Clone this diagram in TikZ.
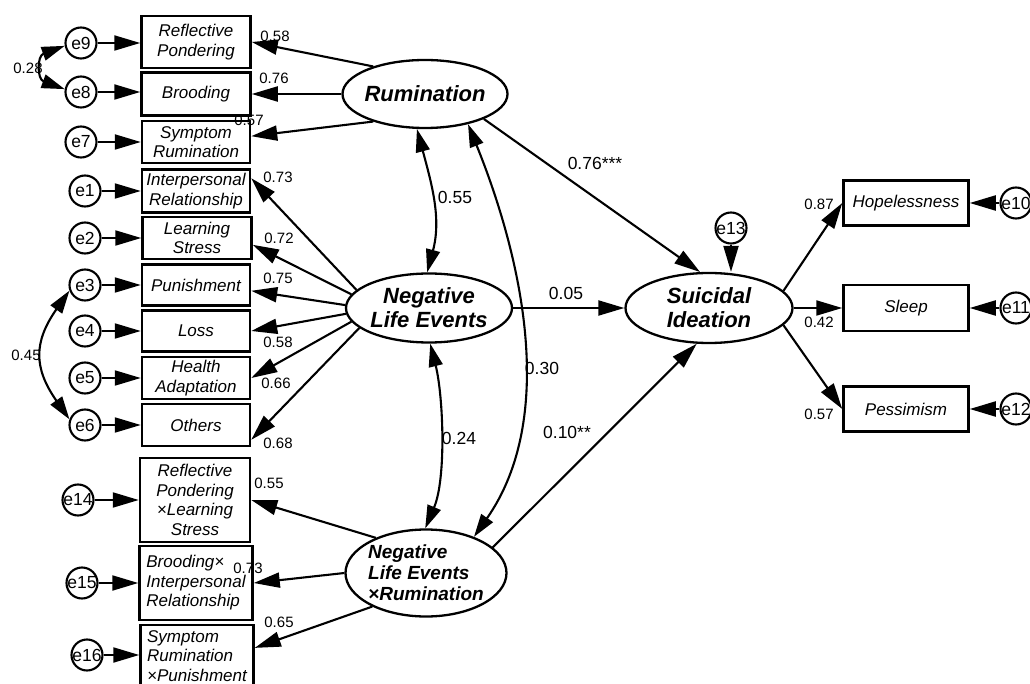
\documentclass[tikz,border=0pt]{standalone}
\usepackage{fontspec}
\setmainfont{Liberation Sans}
\usetikzlibrary{arrows.meta,shapes.geometric,calc}
\tikzset{
  ind/.style={draw, line width=2.5pt, inner sep=0pt, font=\fontsize{17}{19.5}\selectfont\itshape, align=center},
  lat/.style={draw, ellipse, line width=2.3pt, inner xsep=-25pt, inner ysep=-5pt, font=\fontsize{22}{24}\selectfont\bfseries\itshape, align=center},
  err/.style={draw, circle, line width=2.1pt, minimum size=31pt, inner sep=-4pt, font=\fontsize{17.5}{17}\selectfont},
  arr/.style={line width=2.1pt, -{Triangle[length=26pt,width=15pt]}},
  cov/.style={line width=2.1pt, {Triangle[length=23pt,width=14pt]}-{Triangle[length=23pt,width=14pt]}},
  ld/.style={font=\fontsize{15}{15}\selectfont, inner sep=0pt},
  pl/.style={font=\fontsize{17.5}{17.5}\selectfont, inner sep=0pt},
}
\begin{document}
\begin{tikzpicture}[x=1pt,y=1pt]
\useasboundingbox (0,0) rectangle (1030,-684);

% left indicators
\node[ind, minimum width=109pt, minimum height=52pt] (rp) at (196,-42) {Reflective\\Pondering};
\node[ind, minimum width=109pt, minimum height=43pt] (br) at (196,-94) {Brooding};
\node[ind, minimum width=108pt, minimum height=42pt] (sr) at (196,-142) {Symptom\\Rumination};
\node[ind, minimum width=108pt, minimum height=43pt] (ir) at (196,-191) {Interpersonal\\Relationship};
\node[ind, minimum width=109pt, minimum height=42pt] (ls) at (197,-238) {Learning\\Stress};
\node[ind, minimum width=108pt, minimum height=41pt] (pu) at (196,-285) {Punishment};
\node[ind, minimum width=108pt, minimum height=41pt] (lo) at (196,-331) {Loss};
\node[ind, minimum width=108pt, minimum height=42pt] (ha) at (196,-378) {Health\\Adaptation};
\node[ind, minimum width=108pt, minimum height=42pt] (ot) at (196,-425) {Others};
\node[ind, minimum width=110pt, minimum height=84pt] (rpls) at (195,-500) {Reflective\\Pondering\\×Learning\\Stress};
\node[ind, minimum width=113pt, minimum height=74pt, align=left] (bir) at (196,-583) {Brooding×\\Interpersonal\\Relationship};
\node[ind, minimum width=113pt, minimum height=62pt, align=left] (srp) at (197,-656) {Symptom\\Rumination\\×Punishment};

% right indicators
\node[ind, minimum width=125pt, minimum height=45pt] (hope) at (906,-203) {Hopelessness};
\node[ind, minimum width=125pt, minimum height=46pt] (sleep) at (906,-308) {Sleep};
\node[ind, minimum width=125pt, minimum height=45pt] (pess) at (906,-409) {Pessimism};

% latent variables
\node[lat, minimum width=165pt, minimum height=68pt] (rum) at (425,-94) {Rumination};
\node[lat, minimum width=166pt, minimum height=69pt] (nle) at (429,-308) {Negative\\Life Events};
\node[lat, minimum width=161pt, minimum height=87pt, align=left, font=\fontsize{19}{21}\selectfont\bfseries\itshape] (nlexr) at (426,-573) {Negative\\Life Events\\×Rumination};
\node[lat, minimum width=167pt, minimum height=70pt] (si) at (709,-308) {Suicidal\\Ideation};

% error terms
\node[err] (e9) at (81,-43) {e9};
\node[err] (e8) at (81,-92) {e8};
\node[err] (e7) at (81,-142) {e7};
\node[err] (e1) at (85,-191) {e1};
\node[err] (e2) at (85,-238) {e2};
\node[err] (e3) at (85,-285) {e3};
\node[err] (e4) at (85,-331) {e4};
\node[err] (e5) at (85,-378) {e5};
\node[err] (e6) at (85,-425) {e6};
\node[err] (e14) at (78,-500) {e14};
\node[err] (e15) at (82,-583) {e15};
\node[err] (e16) at (87,-655) {e16};
\node[err] (e10) at (1016,-203) {e10};
\node[err] (e11) at (1016,-308) {e11};
\node[err] (e12) at (1016,-409) {e12};
\node[err] (e13) at (731,-228) {e13};

% error arrows
\foreach \e/\b in {e9/rp,e8/br,e7/sr,e1/ir,e2/ls,e3/pu,e4/lo,e5/ha,e6/ot,e14/rpls,e15/bir,e16/srp}
  \draw[arr] (\e) -- (\e -| \b.west);
\foreach \e/\b in {e10/hope,e11/sleep,e12/pess}
  \draw[arr] (\e) -- (\e -| \b.east);
\draw[arr] (e13) -- (e13 |- si.north);

% loadings
\draw[arr] (rum.152) -- (rp.east);
\draw[arr] (rum.west) -- (br.east);
\draw[arr] (rum.208) -- (sr.6);
\draw[arr] (nle.166) -- (ir.13);
\draw[arr] (nle.170) -- (ls.-7);
\draw[arr] (nle.178) -- (pu.-6);
\draw[arr] (nle.184) -- (lo.east);
\draw[arr] (nle.190) -- (ha.east);
\draw[arr] (nle.196) -- (ot.-15);
\draw[arr] (nlexr.145) -- (rpls.east);
\draw[arr] (nlexr.west) -- (bir.east);
\draw[arr] (nlexr.212) -- (srp.8);
\draw[arr] (si.13) -- (hope.west);
\draw[arr] (si.east) -- (sleep.west);
\draw[arr] (si.-13) -- (pess.west);

% structural paths
\draw[arr] (rum.-23) -- (si.104);
\draw[arr] (nle.east) -- (si.west);
\draw[arr] (nlexr.21) -- (si.-109);

% covariances
\draw[cov] (rum.-103) to[out=-75,in=75] (nle.93);
\draw[cov] (rum.-35) to[out=-68,in=55,looseness=0.9] (nlexr.37);
\draw[cov] (nle.-88) to[out=-76,in=67,looseness=0.75] (nlexr.91);
\draw[cov] (e9.190) to[out=200,in=160,looseness=1.75] (e8.170);
\draw[cov] (e3.200) to[out=235,in=125,looseness=1.25] (e6.160);

% loading labels
\node[ld] (l1) at (275,-36) {0.58};
\node[ld] (l2) at (274,-78) {0.76};
\node[ld] (l3) at (249,-120) {0.57};
\node[ld] (l4) at (278,-177) {0.73};
\node[ld] (l5) at (279,-238) {0.72};
\node[ld] (l6) at (278,-278) {0.75};
\node[ld] (l7) at (278,-342) {0.58};
\node[ld] (l8) at (276,-383) {0.66};
\node[ld] (l9) at (278,-443) {0.68};
\node[ld] (l10) at (269,-483) {0.55};
\node[ld] (l11) at (248,-568) {0.73};
\node[ld] (l12) at (279,-622) {0.65};
\node[ld] (l13) at (819,-204) {0.87};
\node[ld] (l14) at (819,-322) {0.42};
\node[ld] (l15) at (819,-414) {0.57};
\node[ld] (l16) at (28,-68) {0.28};
\node[ld] (l17) at (26,-355) {0.45};

% path labels
\node[pl] (p1) at (455,-197) {0.55};
\node[pl] (p2) at (542,-368) {0.30};
\node[pl] (p3) at (459,-438) {0.24};
\node[pl] (p4) at (595,-163) {0.76***};
\node[pl] (p5) at (566,-293) {0.05};
\node[pl] (p6) at (567,-432) {0.10**};
\end{tikzpicture}
\end{document}
